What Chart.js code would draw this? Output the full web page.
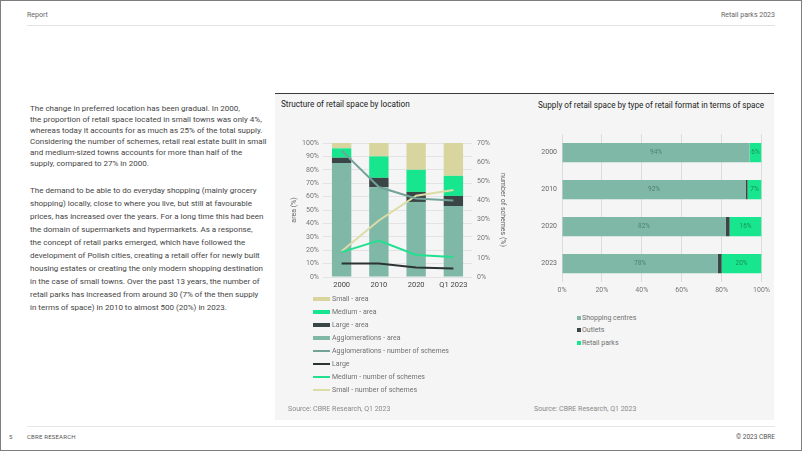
<!DOCTYPE html>
<html><head><meta charset="utf-8">
<script src="https://cdn.jsdelivr.net/npm/chart.js@4/dist/chart.umd.min.js"></script>
<style>
html,body{margin:0;padding:0;background:#fff;}
body{width:802px;height:451px;position:relative;overflow:hidden;font-family:Roboto,"Open Sans",sans-serif;}
.frame{position:absolute;left:0;top:0;width:802px;height:451px;border:1px solid #7d7d7d;box-sizing:border-box;pointer-events:none;}
.abs{position:absolute;white-space:nowrap;}
.hdr{font-size:7px;color:#666;line-height:10px;}
.para{position:absolute;left:30px;font-size:8px;color:#454545;white-space:nowrap;}
.panel{position:absolute;left:275px;top:93px;width:499px;height:327px;background:#f5f5f5;border-top:1.5px solid #3a3a3a;box-sizing:border-box;}
.ctitle{font-size:8.2px;color:#222;font-weight:normal;line-height:12px;}
.src{font-size:7px;color:#8a8a8a;line-height:10px;}
.leg{position:absolute;font-size:7px;color:#707070;line-height:10px;white-space:nowrap;}
.leg .it{position:absolute;left:0;height:10px;}
.leg .sw{position:absolute;top:50%;transform:translateY(-50%);}
canvas{position:absolute;}
</style>
</head><body>
<div class="abs hdr" style="left:27px;top:10px;">Report</div>
<div class="abs hdr" style="right:27px;top:10px;">Retail parks 2023</div>
<div class="abs" style="left:27px;top:24.5px;width:748px;height:1.5px;background:#e2e2e2;"></div>

<div class="para" style="top:102.5px;line-height:11px;">The change in preferred location has been gradual. In 2000,<br>the proportion of retail space located in small towns was only 4%,<br>whereas today it accounts for as much as 25% of the total supply.<br>Considering the number of schemes, retail real estate built in small<br>and medium-sized towns accounts for more than half of the<br>supply, compared to 27% in 2000.</div>
<div class="para" style="top:183.5px;line-height:13px;">The demand to be able to do everyday shopping (mainly grocery<br>shopping) locally, close to where you live, but still at favourable<br>prices, has increased over the years. For a long time this had been<br>the domain of supermarkets and hypermarkets. As a response,<br>the concept of retail parks emerged, which have followed the<br>development of Polish cities, creating a retail offer for newly built<br>housing estates or creating the only modern shopping destination<br>in the case of small towns. Over the past 13 years, the number of<br>retail parks has increased from around 30 (7% of the then supply<br>in terms of space) in 2010 to almost 500 (20%) in 2023.</div>

<div class="panel"></div>
<div class="abs ctitle" style="left:281px;top:98px;">Structure of retail space by location</div>
<div class="abs ctitle" style="left:538px;top:99px;font-size:8.15px;">Supply of retail space by type of retail format in terms of space</div>
<canvas id="c1" width="245" height="165" style="left:275px;top:130px;width:245px;height:165px;"></canvas>
<canvas id="c2" width="249" height="175" style="left:525px;top:125px;width:249px;height:175px;"></canvas>
<div id="leg1" class="leg" style="left:313px;top:0;"></div>
<div id="leg2" class="leg" style="left:577px;top:0;"></div>
<div class="abs src" style="left:288px;top:404px;">Source: CBRE Research, Q1 2023</div>
<div class="abs src" style="left:534px;top:404px;">Source: CBRE Research, Q1 2023</div>

<div class="abs" style="left:27px;top:425.5px;width:748px;height:1px;background:#e6e6e6;"></div>
<div class="abs" style="left:9px;top:432px;font-size:6px;color:#555;line-height:10px;">5</div>
<div class="abs" style="left:27px;top:432px;font-size:6px;color:#555;line-height:10px;letter-spacing:0.2px;">CBRE RESEARCH</div>
<div class="abs" style="right:27px;top:432px;font-size:6.5px;color:#555;line-height:10px;">© 2023 CBRE</div>
<div class="frame"></div>

<script>
// ---- Data: Structure of retail space by location ----
const years = ['2000', '2010', '2020', 'Q1 2023'];
const aggloArea = [85, 67, 56, 53];
const largeArea = [4, 7, 7.5, 7.5];
const mediumArea = [7, 16, 16.5, 15];
const smallArea = [4, 10, 20, 24.5];
const aggloSchemes = [66, 47, 41, 40];
const largeSchemes = [7, 7, 5, 4.5];
const mediumSchemes = [13, 19, 11.5, 10.5];
const smallSchemes = [13.5, 29.5, 42.5, 45.5];
const areaTicks = [0, 10, 20, 30, 40, 50, 60, 70, 80, 90, 100];
const schemeTicks = [0, 10, 20, 30, 40, 50, 60, 70];

// ---- Data: Supply of retail space by type of retail format ----
const formatYears = ['2000', '2010', '2020', '2023'];
const shoppingCentres = [94, 92, 82, 78];
const outlets = [0, 1, 2, 2];
const retailParks = [6, 7, 16, 20];
const shareTicks = [0, 20, 40, 60, 80, 100];

Chart.defaults.font.family = 'Roboto, "Open Sans", sans-serif';
Chart.defaults.animation = false;

const C_AGG = '#80b8a7', C_LARGE = '#3a4545', C_MED = '#18e68f', C_SMALL = '#d9d59f';

const chart1 = new Chart(document.getElementById('c1'), {
  data: {
    labels: years,
    datasets: [
      {type:'bar', label:'Agglomerations - area', data:aggloArea, backgroundColor:C_AGG, yAxisID:'y', stack:'a', order:1, legendH:4},
      {type:'bar', label:'Large - area', data:largeArea, backgroundColor:C_LARGE, yAxisID:'y', stack:'a', order:1, legendH:4},
      {type:'bar', label:'Medium - area', data:mediumArea, backgroundColor:C_MED, yAxisID:'y', stack:'a', order:1, legendH:4},
      {type:'bar', label:'Small - area', data:smallArea, backgroundColor:C_SMALL, yAxisID:'y', stack:'a', order:1, legendH:4},
      {type:'line', label:'Agglomerations - number of schemes', data:aggloSchemes, borderColor:'#72a298', backgroundColor:'#72a298', borderWidth:2, pointRadius:0, yAxisID:'y2', order:0, legendH:2},
      {type:'line', label:'Large', data:largeSchemes, borderColor:'#2b3333', backgroundColor:'#2b3333', borderWidth:2, pointRadius:0, yAxisID:'y2', order:0, legendH:2},
      {type:'line', label:'Medium - number of schemes', data:mediumSchemes, borderColor:'#22e090', backgroundColor:'#22e090', borderWidth:2, pointRadius:0, yAxisID:'y2', order:0, legendH:2},
      {type:'line', label:'Small - number of schemes', data:smallSchemes, borderColor:'#dcdca6', backgroundColor:'#dcdca6', borderWidth:2, pointRadius:0, yAxisID:'y2', order:0, legendH:2}
    ]
  },
  options: {
    responsive:false,
    layout:{padding:{left:15, right:13, top:13, bottom:0}},
    plugins:{legend:{display:false}, tooltip:{enabled:false}},
    datasets:{bar:{categoryPercentage:1, barPercentage:0.52}},
    scales:{
      x:{stacked:true, grid:{display:false, drawTicks:false}, border:{display:false},
         ticks:{color:'#444', font:{size:7.5}, padding:4},
         afterFit:(s)=>{s.height=18;}},
      y:{stacked:true, min:0, max:100, position:'left',
         afterBuildTicks:(s)=>{s.ticks = areaTicks.map(v=>({value:v}));},
         ticks:{callback:(v)=>v+'%', color:'#777', font:{size:7}, padding:4},
         grid:{color:'#e3e3e3', drawTicks:false}, border:{display:false},
         title:{display:true, text:'area (%)', color:'#666', font:{size:7}, padding:0},
         afterFit:(s)=>{s.width=33;}},
      y2:{min:0, max:70, position:'right',
         afterBuildTicks:(s)=>{s.ticks = schemeTicks.map(v=>({value:v}));},
         ticks:{callback:(v)=>v+'%', color:'#777', font:{size:7}, padding:5},
         grid:{display:false, drawTicks:false}, border:{display:false},
         title:{display:true, text:'number of schemes (%)', color:'#666', font:{size:7}, padding:0},
         afterFit:(s)=>{s.width=35;}}
    }
  }
});

const barLabels = {
  id:'barLabels',
  afterDatasetsDraw(chart){
    const ctx = chart.ctx;
    chart.data.datasets.forEach((ds,i)=>{
      if(!ds.labelColor) return;
      const meta = chart.getDatasetMeta(i);
      meta.data.forEach((el,j)=>{
        const v = ds.data[j]; if(!v) return;
        const p = el.getProps(['x','y','base'], true);
        ctx.save();
        ctx.fillStyle = ds.labelColor;
        ctx.font = '6.5px Roboto, sans-serif';
        ctx.textAlign = 'center'; ctx.textBaseline = 'middle';
        ctx.fillText(v+'%', (p.x+p.base)/2, p.y);
        ctx.restore();
      });
    });
  }
};

const chart2 = new Chart(document.getElementById('c2'), {
  type:'bar',
  data:{
    labels: formatYears,
    datasets:[
      {label:'Shopping centres', data:shoppingCentres, backgroundColor:C_AGG, labelColor:'#4e7f73'},
      {label:'Outlets', data:outlets, backgroundColor:C_LARGE},
      {label:'Retail parks', data:retailParks, backgroundColor:C_MED, labelColor:'#1a8f5a'}
    ]
  },
  plugins:[barLabels],
  options:{
    indexAxis:'y', responsive:false,
    layout:{padding:{left:0, right:0, top:8, bottom:0}},
    plugins:{legend:{display:false}, tooltip:{enabled:false}},
    datasets:{bar:{categoryPercentage:1, barPercentage:0.52}},
    scales:{
      x:{stacked:true, min:0, max:100,
         afterBuildTicks:(s)=>{s.ticks = shareTicks.map(v=>({value:v}));},
         ticks:{callback:(v)=>v+'%', color:'#777', font:{size:7}, padding:4},
         grid:{color:'#dcdcdc', drawTicks:false}, border:{display:false},
         afterFit:(s)=>{s.height=18;}},
      y:{stacked:true, grid:{display:false, drawTicks:false}, border:{display:false},
         ticks:{color:'#666', font:{size:7}, padding:5},
         afterFit:(s)=>{s.width=37;}}
    }
  }
});

// HTML legends built from the chart datasets
(function(){
  const ds = chart1.data.datasets;
  const order = [3,2,1,0,4,5,6,7];
  const leg = document.getElementById('leg1');
  order.forEach((idx,k)=>{
    const d = ds[idx];
    const col = d.type==='bar' ? d.backgroundColor : d.borderColor;
    const it = document.createElement('div');
    it.className='it';
    it.style.top = (294 + k*13) + 'px';
    it.innerHTML = '<span class="sw" style="left:0;width:17px;height:'+d.legendH+'px;background:'+col+';"></span><span style="position:absolute;left:19px;top:0;">'+d.label+'</span>';
    leg.appendChild(it);
  });
  const ds2 = chart2.data.datasets;
  const leg2 = document.getElementById('leg2');
  ds2.forEach((d,k)=>{
    const it = document.createElement('div');
    it.className='it';
    it.style.top = (313 + k*12.3) + 'px';
    it.innerHTML = '<span class="sw" style="left:0;width:4px;height:4px;background:'+d.backgroundColor+';"></span><span style="position:absolute;left:5px;top:0;">'+d.label+'</span>';
    leg2.appendChild(it);
  });
})();
</script>
</body></html>
